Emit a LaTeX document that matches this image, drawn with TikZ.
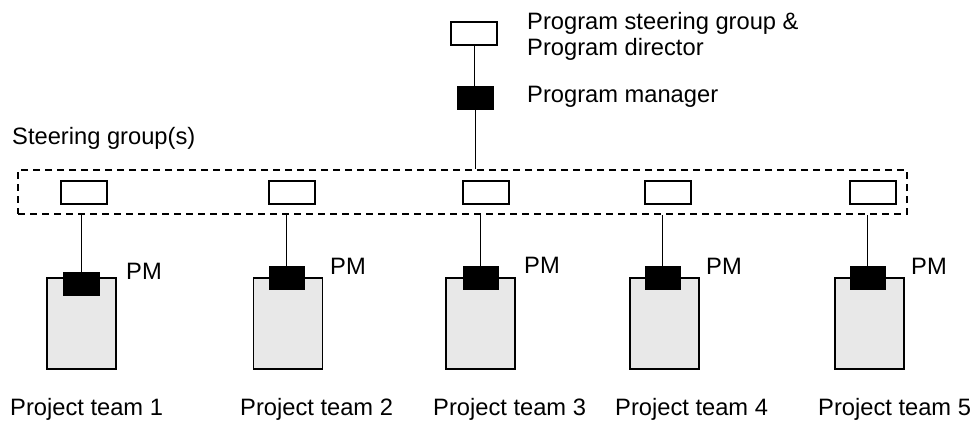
\documentclass[tikz,border=0pt]{standalone}
\usepackage{fontspec}
\setmainfont{Liberation Sans}
\begin{document}
\begin{tikzpicture}[x=1pt,y=-1pt,
  lbl/.style={anchor=base west,inner sep=0pt,font=\fontsize{23.7}{27}\selectfont},
  whitebox/.style={draw,line width=1.1pt,fill=white,minimum width=46pt,minimum height=23pt,inner sep=0pt},
  blackbox/.style={draw,line width=1pt,fill=black,minimum width=35pt,minimum height=23pt,inner sep=0pt},
  teambox/.style={draw,line width=1.1pt,fill=black!9,minimum width=69pt,minimum height=91pt,inner sep=0pt},
  groupframe/.style={draw,dash pattern=on 7pt off 5pt,line width=1.2pt,inner sep=0pt},
  link/.style={line width=1pt}]
\useasboundingbox (0,0) rectangle (976,421);

% program level
\node[whitebox] (psg) at (474,33.5) {};
\node[blackbox,minimum width=36pt] (pmgr) at (475,97.5) {};
\node[lbl] (tpsg) at (527,29) {Program steering group \&};
\node[lbl] (tpdir) at (527,55) {Program director};
\node[lbl] (tpmgr) at (527,102) {Program manager};

% steering groups frame
\node[groupframe,minimum width=889pt,minimum height=44pt] (frame) at (462.5,192) {};
\node[lbl] (tsg) at (12,144) {Steering group(s)};

\draw[link] (psg.south) -- (psg.south |- pmgr.north);
\draw[link] (pmgr.south) -- (pmgr.south |- frame.north);

% steering group boxes
\node[whitebox] (sg1) at (84,192.5) {};
\node[whitebox] (sg2) at (292,192.5) {};
\node[whitebox] (sg3) at (486,192.5) {};
\node[whitebox] (sg4) at (668,192.5) {};
\node[whitebox] (sg5) at (873,192.5) {};

% project teams
\node[teambox] (team1) at (81.5,323.5) {};
\node[teambox] (team2) at (288,323.5) {};
\node[teambox] (team3) at (480.5,323.5) {};
\node[teambox] (team4) at (664.5,323.5) {};
\node[teambox] (team5) at (869.5,323.5) {};

\node[blackbox,minimum width=36pt] (pm1) at (81,283.5) {};
\node[blackbox] (pm2) at (286.5,277.5) {};
\node[blackbox] (pm3) at (480.5,277.5) {};
\node[blackbox] (pm4) at (662.5,277.5) {};
\node[blackbox] (pm5) at (867.5,277.5) {};

\foreach \i in {1,...,5}
  \draw[link] (pm\i.north) -- (pm\i.north |- frame.south);

\node[lbl] (tpm1) at (126,279) {PM};
\node[lbl] (tpm2) at (330,274) {PM};
\node[lbl] (tpm3) at (524,273) {PM};
\node[lbl] (tpm4) at (706,274) {PM};
\node[lbl] (tpm5) at (911,274) {PM};

\node[lbl] (tt1) at (10,415) {Project team 1};
\node[lbl] (tt2) at (240,415) {Project team 2};
\node[lbl] (tt3) at (433,415) {Project team 3};
\node[lbl] (tt4) at (615,415) {Project team 4};
\node[lbl] (tt5) at (818,415) {Project team 5};
\end{tikzpicture}
\end{document}
